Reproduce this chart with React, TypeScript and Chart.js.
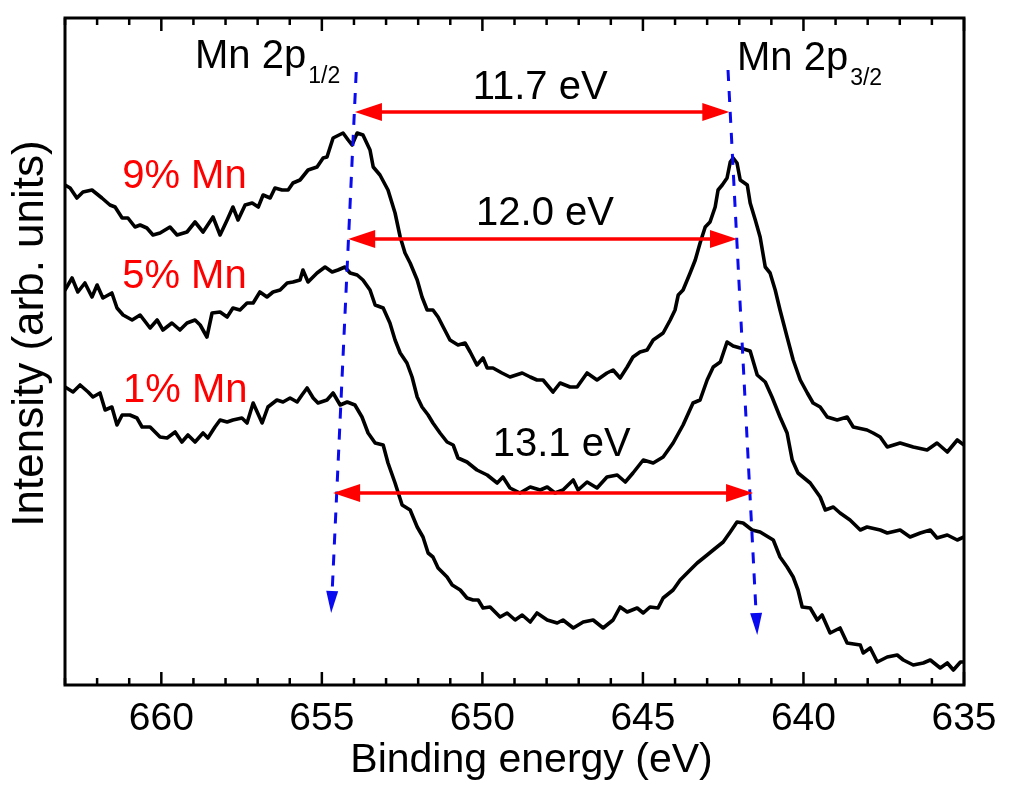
import React, { useEffect, useRef } from 'react';
import { Chart, registerables } from 'chart.js';

Chart.register(...registerables);

// ---------- Data (binding energy in eV, intensity in arb. units) ----------
const spectrum9: [number, number][] = [
  [663.00,500],[662.84,497],[662.63,487],[662.44,493],[662.16,495],[661.85,487],[661.60,480],[661.44,478],
  [661.22,467],[661.04,467],[660.82,458],[660.66,460],[660.45,457],[660.26,450],[660.04,452],[659.73,458],
  [659.51,450],[659.20,453],[658.95,463],[658.70,453],[658.39,468],[658.17,450],[657.95,465],[657.77,478],
  [657.61,465],[657.39,480],[657.17,482],[656.98,478],[656.83,490],[656.61,487],[656.46,497],[656.24,495],
  [656.05,495],[655.90,502],[655.68,505],[655.43,515],[655.15,518],[654.96,527],[654.84,528],[654.65,547],
  [654.34,552],[654.18,545],[654.06,540],[653.90,552],[653.72,550],[653.50,535],[653.40,518],[653.19,510],
  [652.94,495],[652.72,472],[652.56,448],[652.41,432],[652.25,422],[652.03,405],[651.88,388],[651.72,375],
  [651.54,375],[651.38,368],[651.22,358],[651.01,345],[650.76,340],[650.54,342],[650.38,333],[650.17,320],
  [649.98,327],[649.85,317],[649.67,317],[649.39,312],[649.14,308],[648.76,312],[648.51,308],[648.30,305],
  [648.11,305],[647.80,293],[647.58,302],[647.27,298],[647.05,298],[646.74,312],[646.43,305],[646.12,312],
  [645.93,315],[645.71,307],[645.49,318],[645.31,328],[645.09,333],[644.87,335],[644.68,345],[644.37,352],
  [644.15,365],[644.00,375],[643.90,390],[643.75,395],[643.53,412],[643.37,425],[643.22,442],[643.06,458],
  [642.91,463],[642.75,478],[642.66,495],[642.53,500],[642.38,507],[642.28,523],[642.19,527],[642.07,522],
  [641.97,505],[641.75,500],[641.66,482],[641.50,465],[641.35,448],[641.19,418],[641.04,412],[640.88,395],
  [640.73,375],[640.51,348],[640.32,325],[640.10,305],[639.88,292],[639.70,282],[639.48,278],[639.26,268],
  [638.95,265],[638.64,268],[638.45,258],[638.02,255],[637.83,252],[637.61,248],[637.39,238],[636.99,242],
  [636.58,238],[636.15,235],[635.84,242],[635.52,233],[635.21,245],[635.00,240],
];

const spectrum5: [number, number][] = [
  [663.00,395],[662.78,407],[662.60,393],[662.38,402],[662.16,388],[662.00,400],[661.82,387],[661.54,392],
  [661.38,377],[661.19,370],[660.91,365],[660.66,370],[660.35,357],[660.13,365],[659.95,355],[659.67,362],
  [659.42,355],[659.20,362],[658.95,365],[658.79,360],[658.58,348],[658.42,372],[658.17,373],[657.95,368],
  [657.77,377],[657.55,375],[657.33,382],[657.14,382],[656.93,393],[656.71,388],[656.52,393],[656.30,395],
  [656.08,402],[655.90,403],[655.68,405],[655.59,415],[655.43,403],[655.15,412],[654.90,418],[654.68,413],
  [654.50,415],[654.28,418],[654.12,412],[653.90,410],[653.72,405],[653.50,395],[653.34,380],[653.09,377],
  [652.88,362],[652.72,345],[652.56,332],[652.35,322],[652.19,308],[652.03,288],[651.88,278],[651.69,270],
  [651.54,262],[651.32,252],[651.10,243],[650.91,240],[650.76,227],[650.48,223],[650.17,215],[649.85,210],
  [649.54,202],[649.36,208],[649.14,197],[648.83,192],[648.51,198],[648.20,195],[647.98,198],[647.74,192],
  [647.49,195],[647.17,205],[647.02,195],[646.74,203],[646.43,197],[646.12,208],[645.80,210],[645.55,203],
  [645.31,212],[644.99,225],[644.68,222],[644.37,228],[644.06,242],[643.75,260],[643.44,282],[643.22,285],
  [643.00,305],[642.81,318],[642.59,323],[642.38,343],[642.19,339],[641.97,337],[641.66,334],[641.44,310],
  [641.19,303],[640.98,288],[640.73,268],[640.51,252],[640.35,225],[640.17,212],[639.79,202],[639.48,188],
  [639.32,175],[639.07,178],[638.86,172],[638.55,165],[638.23,155],[638.02,158],[637.61,155],[637.39,152],
  [636.99,155],[636.68,148],[636.36,152],[636.05,155],[635.84,147],[635.52,150],[635.21,145],[635.00,148],
];

const spectrum1: [number, number][] = [
  [663.00,298],[662.75,293],[662.53,300],[662.28,293],[662.13,288],[661.91,292],[661.75,275],[661.54,278],
  [661.38,260],[661.22,270],[660.98,270],[660.76,267],[660.60,258],[660.35,258],[660.04,248],[659.82,247],
  [659.57,253],[659.36,243],[659.17,250],[658.95,243],[658.70,252],[658.55,247],[658.33,258],[658.17,265],
  [657.95,263],[657.77,265],[657.49,267],[657.33,262],[657.14,282],[656.86,262],[656.68,278],[656.40,285],
  [656.21,283],[655.99,287],[655.77,283],[655.62,290],[655.46,297],[655.27,287],[655.12,282],[654.84,285],
  [654.65,292],[654.43,280],[654.21,283],[653.97,280],[653.75,268],[653.56,252],[653.34,242],[653.09,240],
  [652.94,222],[652.72,202],[652.50,180],[652.25,175],[652.03,158],[651.85,148],[651.69,132],[651.54,128],
  [651.38,117],[651.10,108],[650.94,100],[650.69,95],[650.48,87],[650.29,85],[650.13,85],[649.98,77],
  [649.76,78],[649.45,68],[649.23,72],[648.98,65],[648.76,70],[648.51,63],[648.30,72],[647.98,65],
  [647.67,62],[647.49,65],[647.17,57],[646.86,63],[646.55,65],[646.24,57],[645.93,65],[645.71,78],
  [645.49,73],[645.18,77],[644.99,72],[644.78,78],[644.53,77],[644.37,87],[644.06,95],[643.84,105],
  [643.53,115],[643.31,122],[643.00,130],[642.81,135],[642.50,143],[642.28,153],[642.07,163],[641.88,162],
  [641.60,155],[641.35,153],[640.94,145],[640.73,128],[640.51,118],[640.32,108],[640.17,95],[640.04,78],
  [639.79,77],[639.57,65],[639.42,70],[639.17,52],[638.86,57],[638.64,42],[638.23,40],[638.14,32],
  [637.92,37],[637.70,23],[637.39,28],[637.08,30],[636.89,25],[636.58,20],[636.27,22],[636.05,25],
  [635.74,17],[635.52,22],[635.33,15],[635.11,23],[635.00,23],
];

// Axis range and tick settings
const xMin = 635;
const xMax = 663;
const yMin = 0;
const yMax = 667;
const majorTickStep = 5;

// Splitting arrows: [left tip energy, right tip energy, intensity level, label]
const splitArrows: [number, number, number, string][] = [
  [653.97, 642.31, 573, '11.7 eV'],
  [654.18, 642.07, 446, '12.0 eV'],
  [654.65, 641.57, 192, '13.1 eV'],
];
// Splitting label anchors: [center energy, baseline intensity]
const splitLabelPos: [number, number][] = [
  [648.20, 586],
  [648.05, 460],
  [647.53, 229],
];

// Peak-shift guide lines: [start energy, start intensity, end energy, end intensity]
const peakGuides: [number, number, number, number][] = [
  [653.93, 613, 654.71, 72],
  [642.35, 615, 641.44, 50],
];

// Peak names: [left energy, baseline intensity, main text, subscript]
const peakNames: [number, number, string, string][] = [
  [658.95, 617, 'Mn 2p', '1/2'],
  [642.07, 615, 'Mn 2p', '3/2'],
];

// Sample labels: [left energy, baseline intensity, text]
const sampleLabels: [number, number, string][] = [
  [661.22, 497, '9% Mn'],
  [661.22, 397, '5% Mn'],
  [661.19, 283, '1% Mn'],
];

const xTitle = 'Binding energy (eV)';
const yTitle = 'Intensity (arb. units)';

const FONT = '"Liberation Sans", Arial, Helvetica, sans-serif';
const RED = '#ff0000';
const BLUE = '#0a0af0';

function head(ctx: CanvasRenderingContext2D, tx: number, ty: number, dx: number, dy: number, len: number, half: number) {
  const bx = tx - dx * len;
  const by = ty - dy * len;
  const px = -dy;
  const py = dx;
  ctx.beginPath();
  ctx.moveTo(tx, ty);
  ctx.lineTo(bx + px * half, by + py * half);
  ctx.lineTo(bx - px * half, by - py * half);
  ctx.closePath();
  ctx.fill();
}

const decorPlugin = {
  id: 'decor',
  afterDatasetsDraw(chart: any) {
    const ctx: CanvasRenderingContext2D = chart.ctx;
    const xs = chart.scales.x;
    const ys = chart.scales.y;
    const { left, right, top, bottom } = chart.chartArea;
    const X = (v: number) => xs.getPixelForValue(v);
    const Y = (v: number) => ys.getPixelForValue(v);
    ctx.save();

    // blue dashed guides
    ctx.strokeStyle = BLUE;
    ctx.fillStyle = BLUE;
    ctx.lineWidth = 3;
    peakGuides.forEach(([e0, i0, e1, i1]) => {
      const x0 = X(e0), y0 = Y(i0), x1 = X(e1), y1 = Y(i1);
      const L = Math.hypot(x1 - x0, y1 - y0);
      const dx = (x1 - x0) / L, dy = (y1 - y0) / L;
      const hl = 22;
      ctx.setLineDash([11, 10]);
      ctx.beginPath();
      ctx.moveTo(x0, y0);
      ctx.lineTo(x1 - dx * hl, y1 - dy * hl);
      ctx.stroke();
      ctx.setLineDash([]);
      head(ctx, x1, y1, dx, dy, hl, 6);
    });

    // red double arrows
    ctx.strokeStyle = RED;
    ctx.fillStyle = RED;
    ctx.lineWidth = 3.5;
    splitArrows.forEach(([eL, eR, lvl]) => {
      const xl = X(eL), xr = X(eR), y = Y(lvl);
      const hl = 27;
      ctx.beginPath();
      ctx.moveTo(xl + hl - 2, y);
      ctx.lineTo(xr - hl + 2, y);
      ctx.stroke();
      head(ctx, xl, y, -1, 0, hl, 9);
      head(ctx, xr, y, 1, 0, hl, 9);
    });

    // splitting labels
    ctx.fillStyle = '#000';
    ctx.font = `40px ${FONT}`;
    ctx.textAlign = 'center';
    ctx.textBaseline = 'alphabetic';
    splitArrows.forEach(([, , , label], k) => {
      const [e, i] = splitLabelPos[k];
      ctx.fillText(label, X(e), Y(i));
    });

    // peak names
    ctx.textAlign = 'left';
    peakNames.forEach(([e, i, main, sub]) => {
      const x = X(e), y = Y(i);
      ctx.font = `40px ${FONT}`;
      ctx.fillText(main, x, y);
      const w = ctx.measureText(main).width;
      ctx.font = `23px ${FONT}`;
      ctx.fillText(sub, x + w + 2, y + 15);
    });

    // sample labels
    ctx.fillStyle = RED;
    ctx.font = `40px ${FONT}`;
    sampleLabels.forEach(([e, i, t]) => {
      ctx.fillText(t, X(e), Y(i));
    });

    // frame
    ctx.strokeStyle = '#000';
    ctx.lineWidth = 3;
    ctx.strokeRect(left, top, right - left, bottom - top);

    // inward ticks on bottom and top
    ctx.lineWidth = 2.5;
    xs.ticks.forEach((t: any) => {
      const px = X(t.value);
      const len = t.value % majorTickStep === 0 ? 13 : 7;
      ctx.beginPath();
      ctx.moveTo(px, bottom);
      ctx.lineTo(px, bottom - len);
      ctx.moveTo(px, top);
      ctx.lineTo(px, top + len);
      ctx.stroke();
    });

    // axis titles
    ctx.fillStyle = '#000';
    ctx.font = `41px ${FONT}`;
    ctx.textAlign = 'center';
    ctx.textBaseline = 'alphabetic';
    ctx.fillText(xTitle, (left + right) / 2 + 17, 772);

    ctx.save();
    ctx.translate(43, (top + bottom) / 2 - 18);
    ctx.rotate(-Math.PI / 2);
    ctx.font = `44px ${FONT}`;
    ctx.fillText(yTitle, 0, 0);
    ctx.restore();

    ctx.restore();
  },
};

export default function App() {
  const ref = useRef<HTMLCanvasElement | null>(null);

  useEffect(() => {
    const canvas = ref.current;
    if (!canvas) return;
    const mk = (pts: [number, number][]) => ({
      data: pts.map(([x, y]) => ({ x, y })),
      borderColor: '#000',
      borderWidth: 3.6,
      borderJoinStyle: 'round',
      borderCapStyle: 'round',
      pointRadius: 0,
      tension: 0,
      fill: false,
    });
    const chart = new Chart(canvas, {
      type: 'line',
      data: { datasets: [mk(spectrum9), mk(spectrum5), mk(spectrum1)] as any },
      options: {
        responsive: false,
        animation: false,
        events: [],
        layout: { padding: { left: 65, right: 46, top: 18, bottom: 0 } },
        plugins: { legend: { display: false }, tooltip: { enabled: false } },
        scales: {
          x: {
            type: 'linear',
            reverse: true,
            min: xMin,
            max: xMax,
            grid: { display: false, drawTicks: false, tickLength: 0 },
            border: { display: false },
            ticks: {
              stepSize: 1,
              autoSkip: false,
              maxRotation: 0,
              padding: 11,
              color: '#000',
              font: { family: FONT, size: 39 },
              callback: (v: any) => (Number(v) % majorTickStep === 0 ? String(v) : ''),
            },
            afterFit: (s: any) => {
              s.height = 102;
            },
          },
          y: { type: 'linear', min: yMin, max: yMax, display: false },
        },
      } as any,
      plugins: [decorPlugin],
    });
    return () => chart.destroy();
  }, []);

  return (
    <div style={{ position: 'fixed', left: 0, top: 0, width: 1010, height: 787, background: '#fff' }}>
      <canvas ref={ref} width={1010} height={787} style={{ display: 'block' }} />
    </div>
  );
}
